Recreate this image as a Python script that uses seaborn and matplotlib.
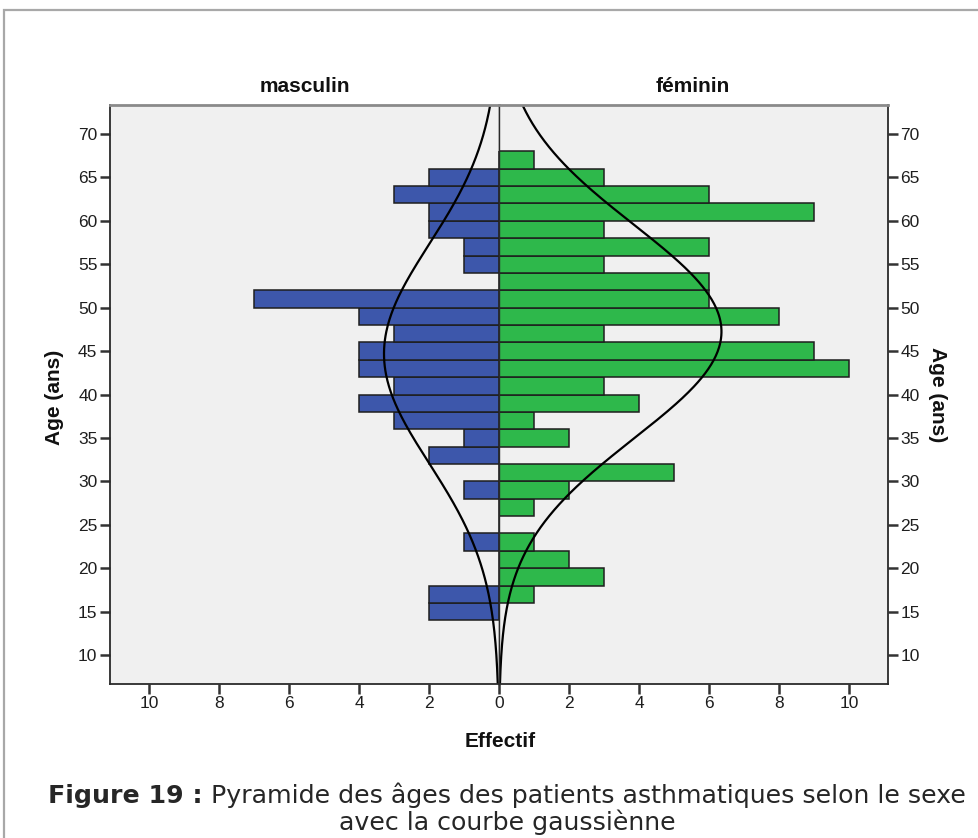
import numpy as np
import pandas as pd
import seaborn as sns
import matplotlib.pyplot as plt
from matplotlib.patches import Rectangle

# bins of 2 years, from 14-16 up to 66-68
age_edges = np.arange(14, 70, 2)
age_mid = age_edges[:-1] + 1
# counts per bin, listed from the youngest bin (14-16) to the oldest (66-68)
masculin = [2, 2, 0, 0, 1, 0, 0, 1, 0, 2, 1, 3, 4, 3, 4, 4, 3, 4, 7, 0, 1, 1, 2, 2, 3, 2, 0]
feminin = [0, 1, 3, 2, 1, 0, 1, 2, 5, 0, 2, 1, 4, 3, 10, 9, 3, 8, 6, 6, 3, 6, 3, 9, 6, 3, 1]
y_ticks = list(range(10, 75, 5))
x_ticks = [0, 2, 4, 6, 8, 10]

blue = "#3d57ab"
green = "#2eb84b"
bg = "#f0f0f0"

sns.set_style("ticks")
plt.rcParams['font.family'] = ['Liberation Sans', 'DejaVu Sans']

W, H = 979, 838
fig = plt.figure(figsize=(W / 100, H / 100), dpi=100)
left, mid, right, top, bot = 110, 499, 888, 105, 684
axL = fig.add_axes([left / W, 1 - bot / H, (mid - left) / W, (bot - top) / H])
axR = fig.add_axes([mid / W, 1 - bot / H, (right - mid) / W, (bot - top) / H], sharey=axL)

ylo, yhi = 6.66, 73.34
xmax = 11.11
ages = np.linspace(ylo, yhi, 400)


def normal_curve(counts):
    counts = np.asarray(counts, dtype=float)
    n = counts.sum()
    m = np.average(age_mid, weights=counts)
    sd = np.sqrt(np.sum(counts * (age_mid - m) ** 2) / (n - 1))
    return n * 2 * np.exp(-0.5 * ((ages - m) / sd) ** 2) / (sd * np.sqrt(2 * np.pi))


for ax, counts, col in [(axL, masculin, blue), (axR, feminin, green)]:
    ax.set_facecolor(bg)
    df = pd.DataFrame({"age": age_mid, "n": counts})
    sns.histplot(data=df, y="age", weights="n", binwidth=2,
                 binrange=(age_edges[0], age_edges[-1]), ax=ax, color=col,
                 alpha=1, edgecolor="#1e1e1e", linewidth=1.1)
    sns.lineplot(x=normal_curve(counts), y=ages, orient="y", sort=False, ax=ax,
                 color="black", linewidth=1.6)
    ax.set_xlabel("")
    ax.set_ylabel("")
    ax.set_ylim(ylo, yhi)
    ax.set_yticks(y_ticks)
    for s in ax.spines.values():
        s.set_visible(True)
        s.set_color("#2a2a2a")
        s.set_linewidth(1.3)
    ax.spines["top"].set_color("#8a8a8a")
    ax.spines["top"].set_linewidth(2)
    ax.tick_params(direction="out", length=7, width=1.8, color="#333333",
                   labelsize=12.5, pad=2, labelcolor="#1e1e1e")

axL.set_xlim(xmax, 0)
axL.set_xticks(x_ticks)
axR.set_xlim(0, xmax)
axR.set_xticks(x_ticks[1:])
axR.yaxis.tick_right()
axR.tick_params(axis="y", labelright=True, labelleft=False)
axR.spines["left"].set_linewidth(1.0)
axL.spines["right"].set_linewidth(1.0)

bold = dict(fontweight="bold", fontsize=15, color="#111111")
fig.text(305 / W, 1 - 86 / H, "masculin", ha="center", va="center", **bold)
fig.text(693 / W, 1 - 86 / H, "féminin", ha="center", va="center", **bold)
fig.text(55 / W, 1 - 397 / H, "Age (ans)", rotation=90, ha="center", va="center", **bold)
fig.text(938 / W, 1 - 395 / H, "Age (ans)", rotation=270, ha="center", va="center", **bold)
fig.text(500 / W, 1 - 741 / H, "Effectif", ha="center", va="center", **bold)

# outer frame of the figure box
fig.add_artist(Rectangle((4 / W, -0.1), 1.2, 1.1 - 10.5 / H, transform=fig.transFigure,
                         facecolor="none", edgecolor="#a8a8a8", linewidth=1.6))

# caption, bold prefix + regular text, fitted to the reference width
cap_font = ['DejaVu Sans']
fig.canvas.draw()
r = fig.canvas.get_renderer()
size = 20
t1 = fig.text(0, 1 - 803 / H, "Figure 19 :", fontweight="bold", fontsize=size,
              family=cap_font, va="baseline")
t2 = fig.text(0, 1 - 803 / H, " Pyramide des âges des patients asthmatiques selon le sexe",
              fontsize=size, family=cap_font, va="baseline")
w = t1.get_window_extent(r).width + t2.get_window_extent(r).width
size = size * 918 / w
t1.set_fontsize(size)
t2.set_fontsize(size)
w1 = t1.get_window_extent(r).width
w2 = t2.get_window_extent(r).width
x0 = 507 - (w1 + w2) / 2
t1.set_x(x0 / W)
t2.set_x((x0 + w1) / W)
fig.text(507 / W, 1 - 830 / H, "avec la courbe gaussiènne", fontsize=size, family=cap_font,
         ha="center", va="baseline")

fig.savefig("out.png", dpi=100)
